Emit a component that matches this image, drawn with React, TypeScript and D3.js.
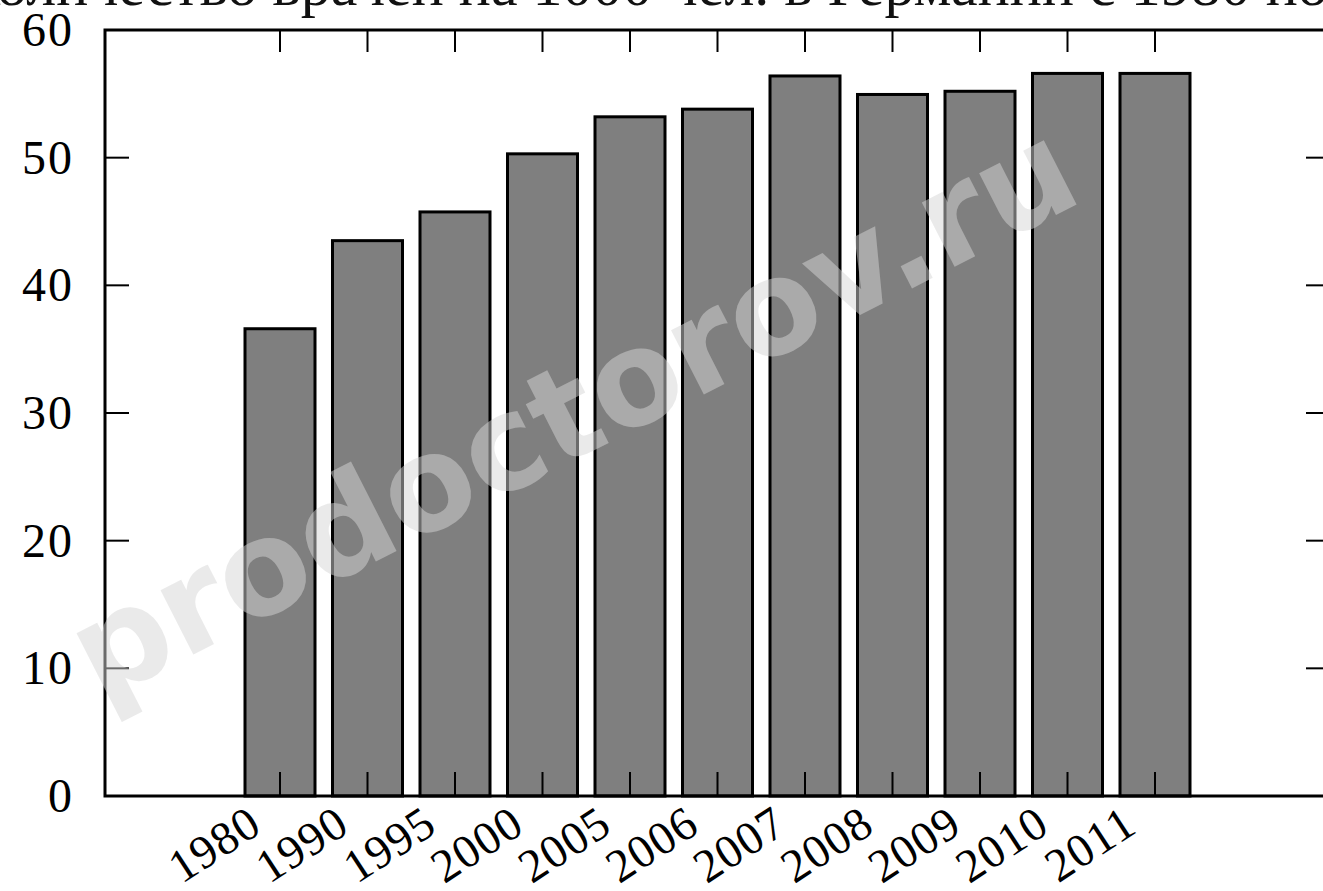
import React from "react";
import * as d3 from "d3";

const years = ["1980", "1990", "1995", "2000", "2005", "2006", "2007", "2008", "2009", "2010", "2011"];
const values = [36.6, 43.5, 45.75, 50.3, 53.2, 53.8, 56.4, 54.95, 55.2, 56.6, 56.6];
const yTicks = [0, 10, 20, 30, 40, 50, 60];
const titleText = "Количество врачей на 1000 чел. в Германии с 1980 по 2011 гг.";
const watermark = "prodoctorov.ru";

const W = 1323;
const H = 891;

export default function App() {
  const x = d3.scaleLinear().domain([-2, 12]).range([105, 1330]);
  const y = d3.scaleLinear().domain([0, 60]).range([796, 30]);
  const barW = 70;
  const tickLen = 24;
  const serif = "'Liberation Serif', 'DejaVu Serif', serif";

  return (
    <svg
      width={W}
      height={H}
      style={{ position: "absolute", left: 0, top: 0, background: "#fff" }}
    >
      <rect x={0} y={0} width={W} height={H} fill="#fff" />
      {/* cut-off title */}
      <text x={-40} y={5} fontFamily={serif} fontSize={60} fill="#111">
        {titleText}
      </text>

      {/* bars */}
      {values.map((v, i) => (
        <rect
          key={years[i]}
          x={x(i) - barW / 2}
          y={y(v)}
          width={barW}
          height={y(0) - y(v)}
          fill="#7f7f7f"
          stroke="#000"
          strokeWidth={3}
        />
      ))}

      {/* x ticks bottom & top */}
      {years.map((yr, i) => (
        <g key={"t" + yr}>
          <line x1={x(i)} x2={x(i)} y1={y(0)} y2={y(0) - tickLen} stroke="#000" strokeWidth={2} />
          <line x1={x(i)} x2={x(i)} y1={y(60)} y2={y(60) + tickLen - 2} stroke="#000" strokeWidth={2} />
          <text
            transform={`translate(${x(i) - 16},${831}) rotate(-33)`}
            textAnchor="end"
            fontFamily={serif}
            fontSize={47}
            letterSpacing={1}
            fill="#000"
          >
            {yr}
          </text>
        </g>
      ))}

      {/* y ticks left & right */}
      {yTicks.map((t) => (
        <g key={"y" + t}>
          <line x1={105} x2={105 + tickLen} y1={y(t)} y2={y(t)} stroke="#000" strokeWidth={2} />
          <line x1={1330} x2={1330 - tickLen} y1={y(t)} y2={y(t)} stroke="#000" strokeWidth={2} />
          <text
            x={74}
            y={y(t)}
            dy="0.33em"
            textAnchor="end"
            fontFamily={serif}
            fontSize={48}
            letterSpacing={2}
            fill="#000"
          >
            {t}
          </text>
        </g>
      ))}

      {/* frame */}
      <rect
        x={105}
        y={30}
        width={1225}
        height={766}
        fill="none"
        stroke="#000"
        strokeWidth={3}
      />

      {/* watermark */}
      <text
        transform="translate(572,410) rotate(-27)"
        textAnchor="middle"
        dominantBaseline="central"
        fontFamily="'DejaVu Sans', 'Liberation Sans', sans-serif"
        fontWeight="bold"
        fontSize={132}
        fill="#d6d6d6"
        fillOpacity={0.5}
      >
        {watermark}
      </text>
    </svg>
  );
}
